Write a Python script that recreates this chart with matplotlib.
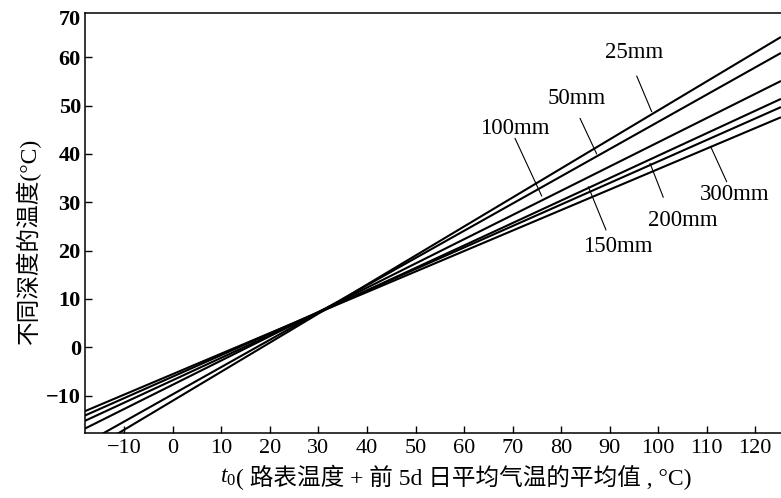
import matplotlib
matplotlib.use("Agg")
import matplotlib.pyplot as plt

# ---- data ----
depths = ["25mm", "50mm", "100mm", "150mm", "200mm", "300mm"]
t0_range = [-18.1, 125.3]                      # x extent of every line
temp_at_t0_min = [-21.9, -19.9, -16.8, -15.2, -14.1, -13.2]
temp_at_t0_max = [64.2, 60.9, 55.1, 51.4, 49.7, 47.6]

x_ticks = [-10, 0, 10, 20, 30, 40, 50, 60, 70, 80, 90, 100, 110, 120]
y_ticks = [-10, 0, 10, 20, 30, 40, 50, 60]
y_top_label = "70"

# label layout: text centre, pointer start, pointer end (figure pixels, y from top)
label_layout = {
    "25mm":  ((634, 53),  (636.7, 76),  (651.7, 111.7)),
    "50mm":  ((577, 98),  (580, 118.3), (596.7, 154)),
    "100mm": ((515, 129), (515, 138.3), (541.7, 196)),
    "150mm": ((618, 247), (606, 230),   (588.3, 186.7)),
    "200mm": ((683, 220), (663.3, 197.3), (650, 163.3)),
    "300mm": ((735, 195), (726.7, 181.7), (710.7, 146.7)),
}

W, H = 781, 498
plt.rcParams["font.family"] = ["Liberation Serif", "Noto Sans CJK SC"]
plt.rcParams["mathtext.fontset"] = "custom"
plt.rcParams["mathtext.rm"] = "Liberation Serif"
plt.rcParams["mathtext.it"] = "Liberation Serif:italic"

fig = plt.figure(figsize=(W / 100, H / 100), dpi=100)
ax = fig.add_axes([85 / W, (H - 433) / H, 1 - 85 / W, (433 - 13) / H])

for d, y0, y1 in zip(depths, temp_at_t0_min, temp_at_t0_max):
    ax.plot(t0_range, [y0, y1], color="black", lw=1.5, solid_capstyle="butt")

ax.set_xlim(t0_range[0], t0_range[1])
ax.set_ylim(-17.72, 69.16)

ax.set_xticks(x_ticks)
ax.set_xticklabels([f"{v}".replace("-", "\u2212") for v in x_ticks], fontsize=16)
ax.set_yticks(y_ticks)
ax.set_yticklabels([f"{v}".replace("-", "\u2212") for v in y_ticks], fontsize=16,
                   fontweight="bold")
ax.tick_params(axis="x", direction="in", length=5, width=1, pad=4)
ax.tick_params(axis="y", direction="in", length=5, width=1, pad=3)
fig.text(81 / W, 1 - 20 / H, y_top_label, fontsize=16, fontweight="bold",
         ha="right", va="center")

for s in ["left", "bottom", "top"]:
    ax.spines[s].set_linewidth(1.1)
ax.spines["right"].set_visible(False)

def fp(p):
    return (p[0], H - p[1])

for d in depths:
    tc, ps, pe = label_layout[d]
    ax.annotate("", xy=fp(pe), xytext=fp(ps), xycoords="figure pixels",
                textcoords="figure pixels",
                arrowprops=dict(arrowstyle="-", lw=0.8, color="black",
                                shrinkA=0, shrinkB=0))
    fig.text(tc[0] / W, 1 - tc[1] / H, d, fontsize=16.5, ha="center", va="center")

fig.text(28 / W, 1 - 241 / H, "不同深度的温度(°C)", rotation=90, fontsize=17,
         ha="center", va="center")

main = fig.text(692 / W, 1 - 477 / H, "( 路表温度 + 前 5d 日平均气温的平均值 , °C)",
                fontsize=17, ha="right", va="center")
fig.canvas.draw()
bb = main.get_window_extent(renderer=fig.canvas.get_renderer())
fig.text(bb.x0 / W, 1 - 477 / H, "$t_0$", fontsize=17, ha="right", va="center")

fig.savefig("out.png", dpi=100)
